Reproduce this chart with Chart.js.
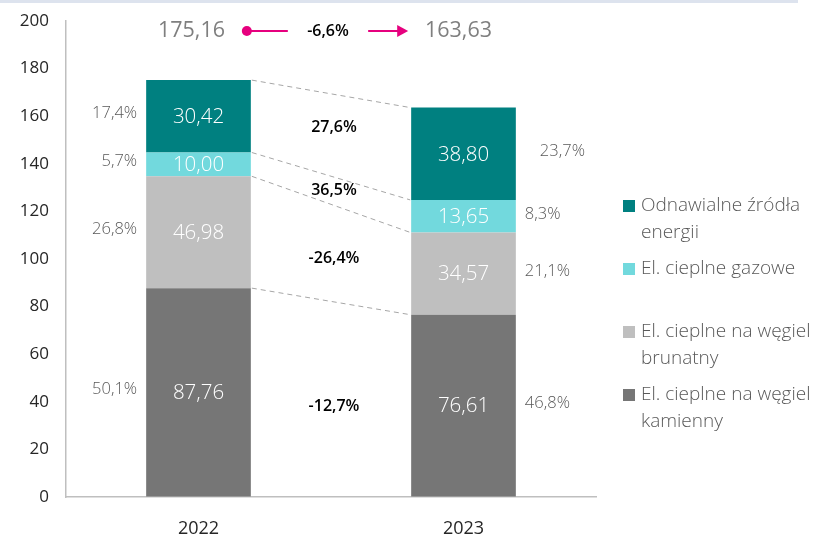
<!DOCTYPE html>
<html><head><meta charset="utf-8">
<script src="https://cdn.jsdelivr.net/npm/chart.js@4"></script>
<style>html,body{margin:0;padding:0;background:#fff}#wrap{position:relative;width:813px;height:538px}</style>
</head><body><div id="wrap"><canvas id="c" width="813" height="538"></canvas></div>
<script>
// ---- data ----
const categories = ['2022', '2023'];
const hardCoal   = [87.76, 76.61];
const brownCoal  = [46.98, 34.57];
const gasPlants  = [10.00, 13.65];
const renewables = [30.42, 38.80];
const valueLabels = [['87,76','76,61'], ['46,98','34,57'], ['10,00','13,65'], ['30,42','38,80']];
const shareLabels = [['50,1%','46,8%'], ['26,8%','21,1%'], ['5,7%','8,3%'], ['17,4%','23,7%']];
const changeLabels = ['-12,7%', '-26,4%', '36,5%', '27,6%'];
const totalLabels = ['175,16', '163,63'];
const totalChange = '-6,6%';
const seriesNames = ['El. cieplne na węgiel kamienny', 'El. cieplne na węgiel brunatny', 'El. cieplne gazowe', 'Odnawialne źródła energii'];
const legendLines = [['Odnawialne źródła', 'energii'], ['El. cieplne gazowe'], ['El. cieplne na węgiel', 'brunatny'], ['El. cieplne na węgiel', 'kamienny']];
const yMin = 0, yMax = 200, yStep = 20;

// ---- style ----
const colors = ['#767676', '#BFBFBF', '#72D9DD', '#008080'];
const FONT = "'Open Sans', 'Noto Sans', sans-serif";
const legendColorOrder = [3, 2, 1, 0];
const legendTops = [206, 269, 332, 395];
const changeNudge = [7, 6, 0, -8];

const overlay = {
  id: 'overlay',
  beforeDraw(chart) {
    const ctx = chart.ctx;
    ctx.save();
    ctx.fillStyle = '#DDE3EE';
    ctx.fillRect(0, 0, 798, 3);
    ctx.restore();
  },
  afterDatasetsDraw(chart) {
    const ctx = chart.ctx;
    const metas = chart.data.datasets.map((d, i) => chart.getDatasetMeta(i));
    const b0 = metas.map(m => m.data[0]);
    const b1 = metas.map(m => m.data[1]);
    ctx.save();
    // dashed connectors
    ctx.strokeStyle = '#A6A6A6';
    ctx.lineWidth = 1;
    ctx.setLineDash([5, 4]);
    for (let s = 0; s < metas.length; s++) {
      const a = b0[s], b = b1[s];
      ctx.beginPath();
      ctx.moveTo(a.x + a.width / 2 + 1, a.y);
      ctx.lineTo(b.x - b.width / 2 - 1, b.y);
      ctx.stroke();
    }
    ctx.setLineDash([]);
    // values inside bars
    ctx.textAlign = 'center';
    ctx.textBaseline = 'middle';
    ctx.fillStyle = '#FFFFFF';
    ctx.font = '300 20.5px ' + FONT;
    for (let s = 0; s < metas.length; s++) {
      for (let i = 0; i < 2; i++) {
        const el = metas[s].data[i];
        ctx.fillText(valueLabels[s][i], el.x, (el.y + el.base) / 2 + 1);
      }
    }
    // share labels
    ctx.fillStyle = '#595959';
    ctx.font = '300 16.5px ' + FONT;
    for (let s = 0; s < metas.length; s++) {
      const a = b0[s];
      ctx.textAlign = 'right';
      ctx.fillText(shareLabels[s][0], a.x - a.width / 2 - 9, (a.y + a.base) / 2 - 3);
      const b = b1[s];
      ctx.textAlign = 'left';
      const extra = s === 3 ? 15 : 0;
      ctx.fillText(shareLabels[s][1], b.x + b.width / 2 + 9 + extra, (b.y + b.base) / 2 - 2);
    }
    // change labels
    ctx.fillStyle = '#000000';
    ctx.font = '600 16px ' + FONT;
    ctx.textAlign = 'center';
    for (let s = 0; s < metas.length; s++) {
      const a = b0[s], b = b1[s];
      const x = (a.x + a.width / 2 + b.x - b.width / 2) / 2 + 3;
      const y = ((a.y + a.base) / 2 + (b.y + b.base) / 2) / 2 + changeNudge[s];
      ctx.fillText(changeLabels[s], x, y);
    }
    // totals row
    const ty = 31;
    const top0 = b0[3], top1 = b1[3];
    ctx.fillStyle = '#7F7F7F';
    ctx.font = '400 21.5px ' + FONT;
    ctx.fillText(totalLabels[0], top0.x - 7, ty);
    ctx.fillText(totalLabels[1], top1.x - 5, ty);
    const pink = '#E6007E';
    const r0 = top0.x + top0.width / 2;
    const l1 = top1.x - top1.width / 2;
    ctx.fillStyle = pink;
    ctx.strokeStyle = pink;
    ctx.lineWidth = 2;
    ctx.beginPath(); ctx.arc(r0 - 4, ty, 5, 0, Math.PI * 2); ctx.fill();
    ctx.beginPath(); ctx.moveTo(r0 - 4, ty); ctx.lineTo(r0 + 37, ty); ctx.stroke();
    ctx.beginPath(); ctx.moveTo(l1 - 43, ty); ctx.lineTo(l1 - 5, ty); ctx.stroke();
    ctx.beginPath(); ctx.moveTo(l1 - 3, ty); ctx.lineTo(l1 - 14, ty - 6); ctx.lineTo(l1 - 14, ty + 6); ctx.closePath(); ctx.fill();
    ctx.fillStyle = '#000000';
    ctx.font = '600 16px ' + FONT;
    ctx.fillText(totalChange, (r0 + l1) / 2 - 3, ty);
    // legend
    ctx.textAlign = 'left';
    ctx.font = '300 19px ' + FONT;
    for (let k = 0; k < legendLines.length; k++) {
      const top = legendTops[k];
      ctx.fillStyle = colors[legendColorOrder[k]];
      ctx.fillRect(623, top - 6, 12, 12);
      ctx.fillStyle = '#595959';
      legendLines[k].forEach((ln, j) => ctx.fillText(ln, 641, top + j * 27));
    }
    ctx.restore();
  }
};

new Chart(document.getElementById('c'), {
  type: 'bar',
  data: {
    labels: categories,
    datasets: [hardCoal, brownCoal, gasPlants, renewables].map((d, i) => ({
      label: seriesNames[i],
      data: d,
      backgroundColor: colors[i],
      borderWidth: 0,
      categoryPercentage: 1,
      barPercentage: 0.395
    }))
  },
  options: {
    responsive: false,
    animation: false,
    events: [],
    layout: { padding: { left: 0, right: 217, top: 21, bottom: 0 } },
    plugins: { legend: { display: false }, tooltip: { enabled: false } },
    scales: {
      x: {
        stacked: true,
        grid: { display: true, drawOnChartArea: false, drawTicks: false },
        border: { display: true, color: '#BFBFBF', width: 1.5 },
        ticks: { color: '#262626', font: { family: FONT, size: 18 }, padding: 21 },
        afterFit(s) { s.height = 41; s.paddingLeft = 0; s.paddingRight = 0; }
      },
      y: {
        stacked: true,
        min: yMin, max: yMax,
        grid: { display: true, drawOnChartArea: false, drawTicks: false },
        border: { display: true, color: '#BFBFBF', width: 1.5 },
        ticks: { stepSize: yStep, color: '#262626', font: { family: FONT, size: 17 }, padding: 17 },
        afterFit(s) { s.width = 66; s.paddingTop = 0; s.paddingBottom = 0; }
      }
    }
  },
  plugins: [overlay]
});
</script></body></html>
